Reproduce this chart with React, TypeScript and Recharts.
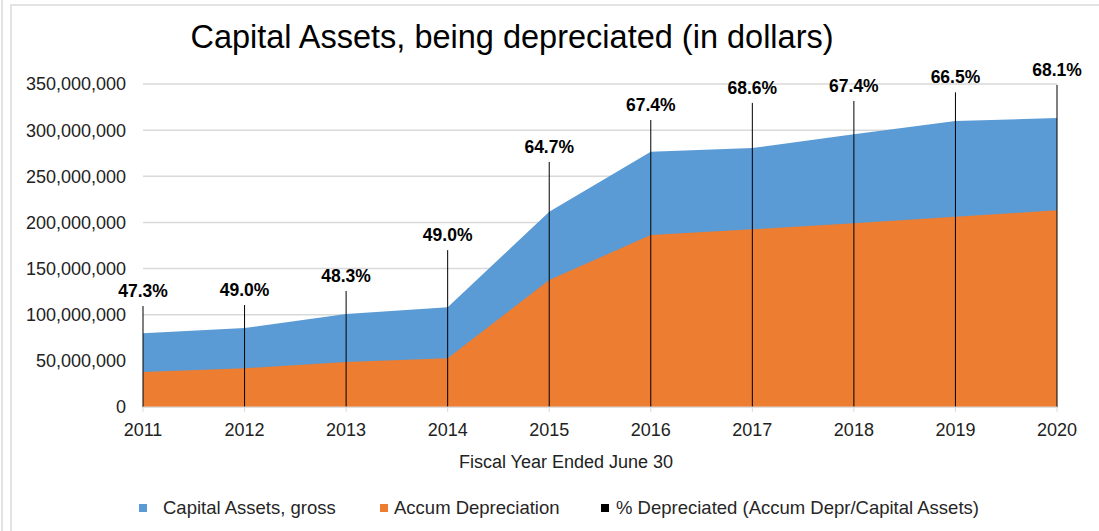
import React from 'react';
import {
  ComposedChart,
  Area,
  Line,
  XAxis,
  YAxis,
  CartesianGrid,
  ReferenceLine,
  LabelList,
  Legend,
  Label,
} from 'recharts';

const years = ['2011', '2012', '2013', '2014', '2015', '2016', '2017', '2018', '2019', '2020'];
const grossAssets = [80.0e6, 85.6e6, 100.8e6, 108.0e6, 211.6e6, 276.6e6, 280.6e6, 295.5e6, 309.9e6, 313.1e6];
const accumDepreciation = [38.0e6, 42.0e6, 48.7e6, 52.9e6, 137.6e6, 186.4e6, 192.5e6, 199.2e6, 206.1e6, 213.2e6];
const pctLabels = ['47.3%', '49.0%', '48.3%', '49.0%', '64.7%', '67.4%', '68.6%', '67.4%', '66.5%', '68.1%'];
const labelHeights = [109.4e6, 110.5e6, 125.7e6, 170.0e6, 265.5e6, 311.0e6, 329.5e6, 331.6e6, 341.0e6, 349.0e6];
const yTicks = [0, 50e6, 100e6, 150e6, 200e6, 250e6, 300e6, 350e6];

const SERIES_GROSS = 'Capital Assets, gross';
const SERIES_ACCUM = 'Accum Depreciation';
const SERIES_PCT = '% Depreciated (Accum Depr/Capital Assets)';
const legendOrder = [SERIES_GROSS, SERIES_ACCUM, SERIES_PCT];

const data = years.map((year, i) => ({
  year,
  gross: grossAssets[i],
  accum: accumDepreciation[i],
  pctTop: labelHeights[i],
  pct: pctLabels[i],
}));

const BLUE = '#5B9BD5';
const ORANGE = '#ED7D31';
const FONT = '"Liberation Sans", Arial, sans-serif';
const seriesColors: Record<string, string> = {
  [SERIES_GROSS]: BLUE,
  [SERIES_ACCUM]: ORANGE,
  [SERIES_PCT]: '#000',
};

const fmt = (v: number) => v.toLocaleString('en-US');

const renderPctLabel = (props: any) => {
  const { x, y, index } = props;
  return (
    <text
      x={x}
      y={y - 9}
      textAnchor="middle"
      fontFamily={FONT}
      fontWeight="bold"
      fontSize={17.5}
      fill="#000"
    >
      {pctLabels[index]}
    </text>
  );
};

const legendLayout = [
  { sq: 139, tx: 163 },
  { sq: 380, tx: 394 },
  { sq: 601, tx: 616 },
];

const renderLegend = (props: any) => {
  const payload = (props.payload || []).slice();
  payload.sort((a: any, b: any) => legendOrder.indexOf(a.value) - legendOrder.indexOf(b.value));
  return (
    <div style={{ position: 'relative', width: 1099, height: 24, fontFamily: FONT, fontSize: 18.5, color: '#262626' }}>
      {payload.map((entry: any, i: number) => {
        const pos = legendLayout[i] || { sq: 0, tx: 0 };
        return (
          <React.Fragment key={entry.value}>
            <span
              style={{
                position: 'absolute',
                left: pos.sq,
                top: 8,
                width: 8,
                height: 8,
                background: seriesColors[entry.value] || entry.color,
              }}
            />
            <span style={{ position: 'absolute', left: pos.tx, top: 1, whiteSpace: 'nowrap', lineHeight: '22px' }}>
              {entry.value}
            </span>
          </React.Fragment>
        );
      })}
    </div>
  );
};

export default function App() {
  return (
    <div style={{ position: 'absolute', left: 0, top: 0, width: 1099, height: 531, background: '#fff', overflow: 'hidden' }}>
      <div style={{ position: 'absolute', left: 1, top: 0, width: 2, height: 531, background: '#e3e3e3' }} />
      <div style={{ position: 'absolute', left: 10, top: 4, width: 1089, height: 2, background: '#e3e3e3' }} />
      <div style={{ position: 'absolute', left: 10, top: 4, width: 2, height: 527, background: '#e3e3e3' }} />
      <div
        style={{
          position: 'absolute',
          left: 0,
          width: 1024,
          top: 19,
          textAlign: 'center',
          fontFamily: FONT,
          fontSize: 32.5,
          color: '#000',
          whiteSpace: 'nowrap',
        }}
      >
        Capital Assets, being depreciated (in dollars)
      </div>
      <div style={{ position: 'absolute', left: 0, top: 0 }}>
        <ComposedChart
          width={1099}
          height={531}
          data={data}
          margin={{ top: 84, right: 42, bottom: 74, left: 0 }}
        >
          <CartesianGrid vertical={false} stroke="#d9d9d9" strokeWidth={1.5} />
          <XAxis
            dataKey="year"
            height={50}
            stroke="#d9d9d9"
            tickSize={5}
            tickMargin={11}
            tick={{ fill: '#222', fontSize: 18, fontFamily: FONT }}
            interval={0}
          >
            <Label
              value="Fiscal Year Ended June 30"
              position="bottom"
              offset={-2}
              dx={-34}
              style={{ fill: '#222', fontSize: 18, fontFamily: FONT }}
            />
          </XAxis>
          <YAxis
            width={143}
            domain={[0, 350e6]}
            ticks={yTicks}
            axisLine={false}
            tickLine={false}
            tickSize={0}
            tickMargin={17}
            tickFormatter={fmt}
            tick={{ fill: '#222', fontSize: 18, fontFamily: FONT }}
          />
          <Area
            type="linear"
            dataKey="gross"
            name={SERIES_GROSS}
            fill={BLUE}
            fillOpacity={1}
            stroke="none"
            isAnimationActive={false}
            legendType="square"
          />
          <Area
            type="linear"
            dataKey="accum"
            name={SERIES_ACCUM}
            fill={ORANGE}
            fillOpacity={1}
            stroke="none"
            isAnimationActive={false}
            legendType="square"
          />
          {data.map((d) => (
            <ReferenceLine
              key={d.year}
              segment={[
                { x: d.year, y: 0 },
                { x: d.year, y: d.pctTop },
              ]}
              stroke="#000"
              strokeWidth={1}
            />
          ))}
          <Line
            type="linear"
            dataKey="pctTop"
            name={SERIES_PCT}
            stroke="none"
            dot={false}
            activeDot={false}
            isAnimationActive={false}
            legendType="square"
          >
            <LabelList dataKey="pct" content={renderPctLabel} />
          </Line>
          <Legend
            layout="horizontal"
            verticalAlign="middle"
            align="center"
            content={renderLegend}
            wrapperStyle={{ position: 'absolute', left: 0, top: 496, width: 1099, height: 24 }}
          />
        </ComposedChart>
      </div>
    </div>
  );
}
